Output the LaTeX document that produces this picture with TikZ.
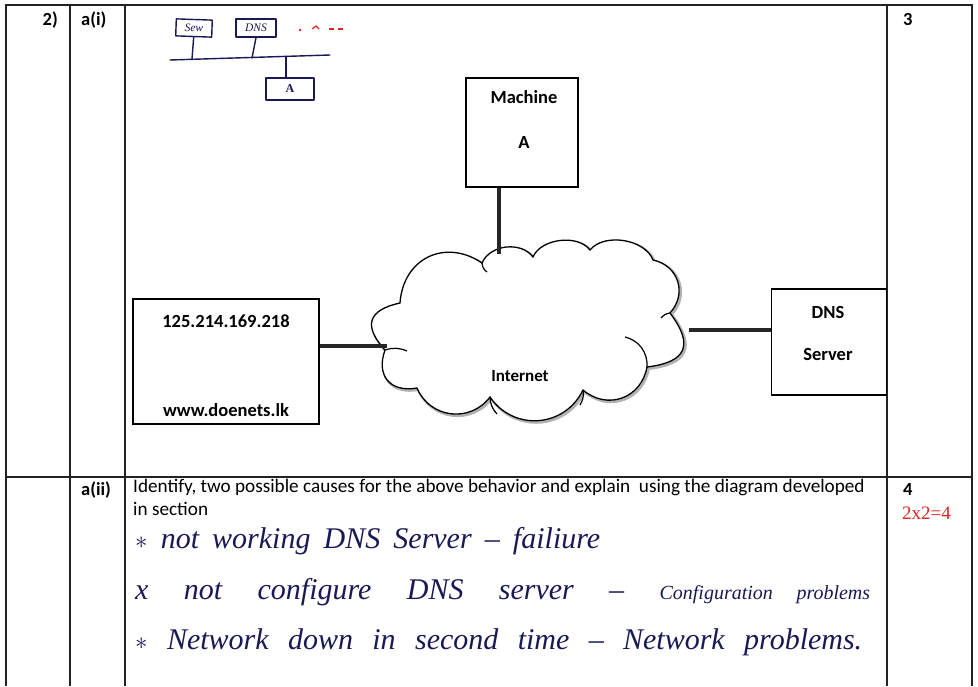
\documentclass[tikz,border=0pt]{standalone}
\usepackage{fontspec}
\setmainfont{Carlito}
\newfontfamily\handfont{Liberation Serif}
\usetikzlibrary{calc}
\definecolor{ink}{RGB}{25,25,85}
\definecolor{redink}{RGB}{225,35,35}
\definecolor{rulecol}{RGB}{35,35,35}
\tikzset{puff/.style={bend left=60, looseness=#1}}
\newcommand\cloudoutline{(385,350) to[puff=1.7] (400,303) to[puff=1.25] (482,263) to[puff=1.0] (533,257) to[puff=0.9] (590,250) to[puff=0.9] (653,260) to[puff=1.2] (670,313) to[puff=1.75] (647,367) to[puff=1.2] (583,390) to[puff=1.15] (490,397) to[puff=1.15] (417,388) to[puff=1.4] cycle}
\begin{document}
\begin{tikzpicture}[x=1pt,y=-1pt,
  grid/.style={draw=rulecol, line width=1.3pt},
  diagbox/.style={draw=black, line width=1.3pt, fill=white, inner sep=0pt},
  lbl/.style={font=\fontsize{18.5}{21}\selectfont\bfseries, inner sep=0pt},
  qtext/.style={font=\fontsize{19.2}{23}\selectfont, inner sep=0pt, align=left},
  conn/.style={line width=3.5pt, draw=black!85},
  pen/.style={draw=ink, line width=1.4pt, line cap=round, line join=round},
  hand/.style={font=\handfont\itshape\fontsize{30}{32}\selectfont, text=ink, inner sep=0pt, anchor=base west}]

\useasboundingbox (0,0) rectangle (978,686);
\fill[white] (0,0) rectangle (978,686);

% ---------- table ----------
\draw[grid] (6,686) -- (6,5) -- (972,5) -- (972,686);
\draw[grid] (70,5) -- (70,686);
\draw[grid] (125,5) -- (125,686);
\draw[grid] (887,5) -- (887,686);
\draw[grid] (6,477) -- (972,477);

\node[lbl, anchor=base east] (qnum) at (58,25) {2)};
\node[lbl, anchor=base west] (parta) at (81,25) {a(i)};
\node[lbl, anchor=base west] (marka) at (903,25) {3};
\node[lbl, anchor=base west] (partb) at (81,495) {a(ii)};
\node[lbl, anchor=base west] (markb) at (903,495) {4};

% ---------- handwritten sketch ----------
\node[pen, draw, minimum width=36pt, minimum height=17pt, inner sep=0pt, rotate=-2, font=\handfont\itshape\fontsize{11.5}{11.5}\selectfont, text=ink] (sew) at (194,28) {Sew};
\node[pen, draw, minimum width=40pt, minimum height=18pt, inner sep=0pt, font=\handfont\itshape\fontsize{11.5}{11.5}\selectfont, text=ink] (dnss) at (256,28) {DNS};
\node[pen, draw, minimum width=48pt, minimum height=22pt, inner sep=0pt, font=\handfont\bfseries\fontsize{12}{12}\selectfont, text=ink] (sa) at (290,89) {A};
\coordinate (busl) at (170,60);
\coordinate (busr) at (330,55);
\draw[pen] (busl) -- (busr);
\draw[pen] (sew.south) -- (192,59);
\draw[pen] (dnss.south) -- (252,58);
\draw[pen] (286,57) -- (sa.north -| 286,0);
\fill[redink] (300,30) circle (1.3);
\draw[redink, line width=1.2pt] (312,29) -- (316,26) -- (319,29);
\draw[redink, line width=1.2pt] (329,29) -- (334,29);
\draw[redink, line width=1.2pt] (338,29) -- (343,29);

% ---------- diagram ----------
\node[diagbox, minimum width=112pt, minimum height=109pt] (mach) at (522,132.5) {};
\node[lbl, anchor=base] (machT) at (524,103) {Machine};
\node[lbl, anchor=base] (machA) at (524,148) {A};

\node[diagbox, minimum width=186pt, minimum height=125pt] (web) at (226,361.5) {};
\node[lbl, anchor=base] (ipT) at (226,327) {125.214.169.218};
\node[lbl, anchor=base] (urlT) at (226,416) {www.doenets.lk};

\node[diagbox, minimum width=115pt, minimum height=106pt] (dns) at (829,342) {};
\node[lbl, anchor=base] (dnsT) at (828,318) {DNS};
\node[lbl, anchor=base] (srvT) at (828,360) {Server};

% cloud
\draw[gray!60, line width=3pt, xshift=1.5pt, yshift=-1.5pt] \cloudoutline;
\draw[black, line width=1.3pt, fill=white] \cloudoutline;
\draw[black, line width=1.2pt] (385,350) to[bend left=20] (407,351);
\draw[black, line width=1.2pt] (625,337) to[bend left=40] (647,367);
\draw[black, line width=1.2pt] (482,263) to[bend right=25] (487,272);
\draw[black, line width=1.2pt] (670,313) to[bend right=20] (661,318);
\draw[black, line width=1.2pt] (583,390) to[bend left=20] (580,405);
\draw[black, line width=1.2pt] (490,397) to[bend right=20] (497,414);
\node[lbl, font=\fontsize{17}{20}\selectfont\bfseries, anchor=base] (inet) at (520,381) {Internet};
\coordinate (cloudTop) at (499,254);
\coordinate (cloudLeft) at (387,346);
\coordinate (cloudRight) at (689,330);

% connectors
\draw[conn] (mach.south -| cloudTop) -- (cloudTop);
\draw[conn] (web.east |- cloudLeft) -- (cloudLeft);
\draw[conn] (cloudRight) -- (dns.west |- cloudRight);

% ---------- part a(ii) ----------
\node[qtext, anchor=north west] (qtxt) at (133,479) {Identify, two possible causes for the above behavior and explain\ \ using the diagram developed\\in section};
\node[anchor=base west, inner sep=0pt, text=redink, font=\handfont\fontsize{19}{19}\selectfont] (score) at (902,519) {2x2=4};

\node[hand] (h1) at (135,548) {\makebox[465pt][s]{$\ast$ not working DNS Server – failiure}};
\node[hand] (h2) at (135,599) {\makebox[735pt][s]{x not configure DNS server – {\fontsize{20}{20}\selectfont Configuration problems}}};
\node[hand] (h3) at (135,649) {\makebox[727pt][s]{$\ast$ Network down in second time – Network problems.}};
\end{tikzpicture}
\end{document}
